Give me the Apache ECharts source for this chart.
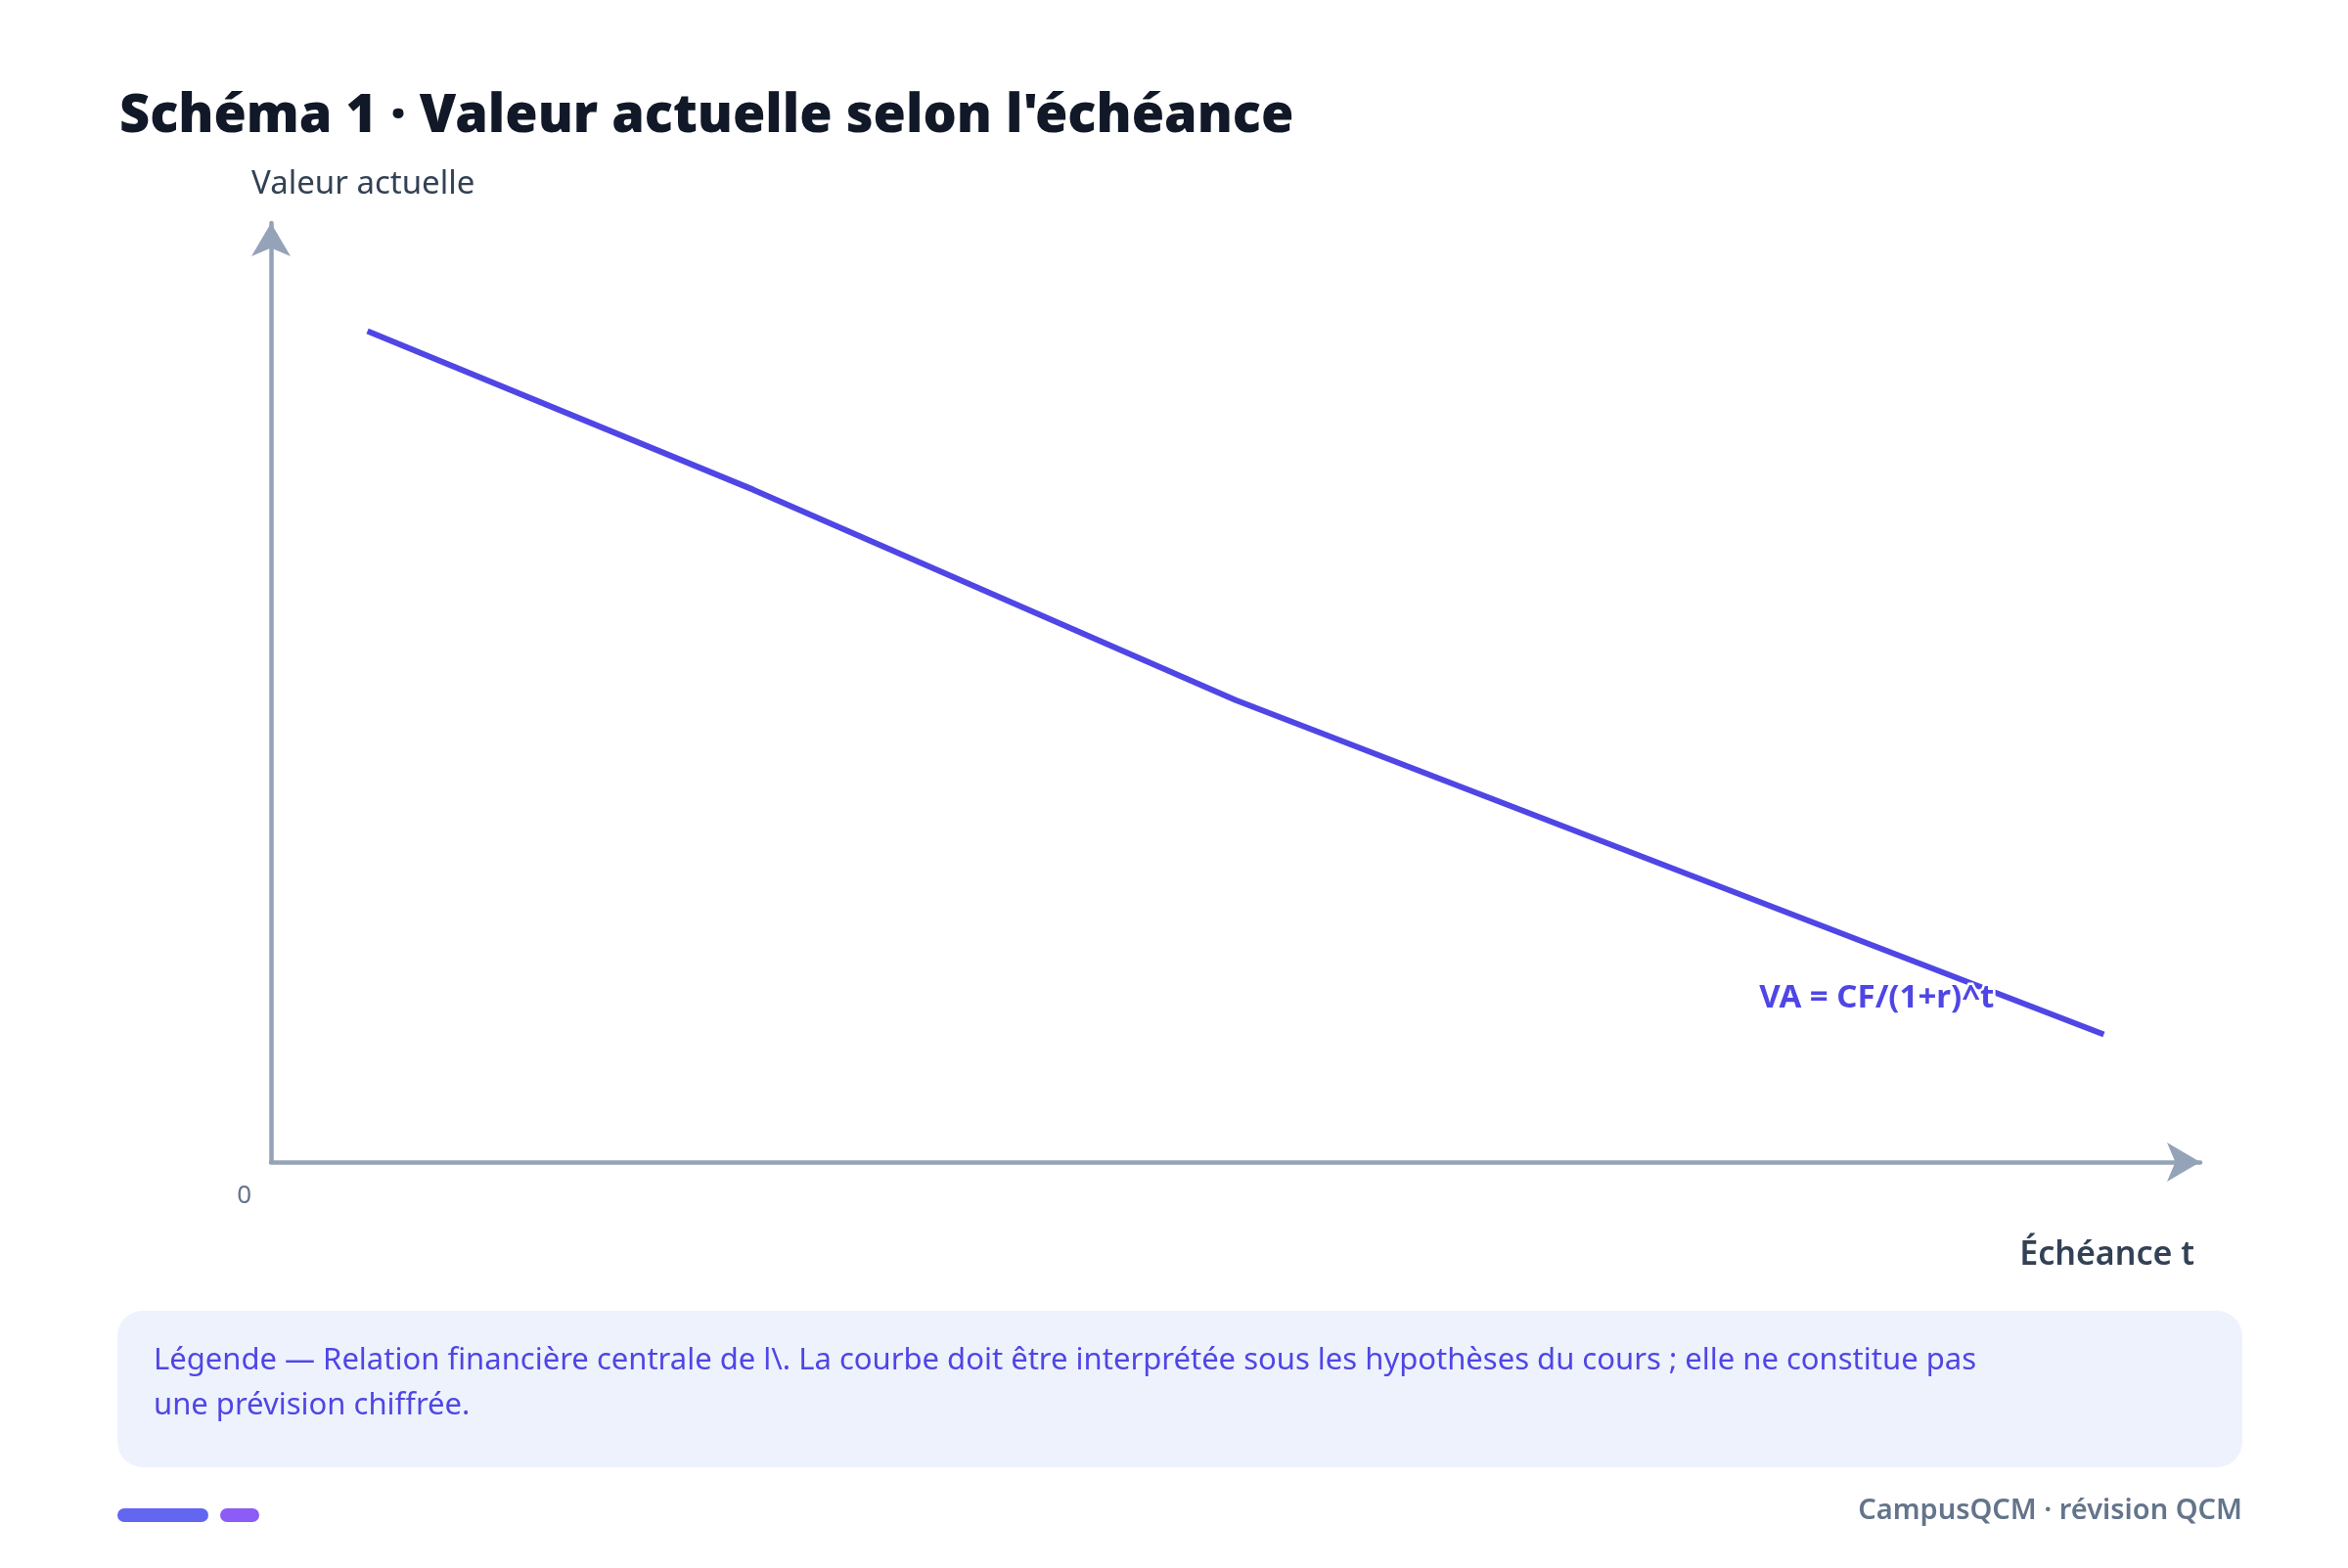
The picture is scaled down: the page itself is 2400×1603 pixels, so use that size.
<!DOCTYPE html>
<html><head><meta charset="utf-8">
<script src="https://cdn.jsdelivr.net/npm/echarts@6/dist/echarts.min.js"></script>
<style>html,body{margin:0;padding:0;background:#fff}#c{width:2400px;height:1603px}</style>
</head><body><div id="c"></div>
<script>
const maturities = [0.5, 2.5, 5, 9.5];
const presentValues = [8.85, 7.16, 4.92, 1.36];
const formulaLabel = 'VA = CF/(1+r)^t';
const titleText = "Schéma 1 · Valeur actuelle selon l'échéance";
const yName = 'Valeur actuelle';
const xName = 'Échéance t';
const legendLine1 = 'Légende — Relation financière centrale de l\\. La courbe doit être interprétée sous les hypothèses du cours ; elle ne constitue pas';
const legendLine2 = 'une prévision chiffrée.';
const footerText = 'CampusQCM · révision QCM';

const F = '"Noto Sans", sans-serif';
const chart = echarts.init(document.getElementById('c'));
chart.setOption({
  backgroundColor: '#fff',
  animation: false,
  title: {text: titleText, left: 117, top: 88, textStyle: {fontFamily: F, fontSize: 54, fontWeight: 900, color: '#111827'}},
  grid: {left: 277, right: 151, top: 228, bottom: 415},
  xAxis: {type: 'value', min: 0, max: 10, interval: 1,
    axisLine: {lineStyle: {color: '#94a3b8', width: 4.5}, symbol: ['none', 'arrow'], symbolSize: [30, 34]},
    axisTick: {show: false}, splitLine: {show: false},
    axisLabel: {formatter: v => v === 0 ? '0' : '', align: 'right', margin: 22, padding: [0, 20, 0, 0], color: '#64748b', fontSize: 26, fontFamily: F}},
  yAxis: {type: 'value', min: 0, max: 10,
    axisLine: {show: true, lineStyle: {color: '#94a3b8', width: 4.5}, symbol: ['none', 'arrow'], symbolSize: [30, 34]},
    axisTick: {show: false}, splitLine: {show: false}, axisLabel: {show: false}},
  series: [{type: 'line', data: maturities.map((t, i) => [t, presentValues[i]]),
    showSymbol: false, lineStyle: {color: '#4f46e5', width: 6},
    label: {show: false},
    markPoint: {symbol: 'circle', symbolSize: 0,
      data: [{coord: [maturities[3], presentValues[3]]}],
      label: {show: true, formatter: formulaLabel, position: 'left', distance: 0, offset: [-112, -37],
        color: '#4f46e5', fontSize: 33, fontWeight: 'bold', fontFamily: F, textBorderColor: '#fff', textBorderWidth: 5}}}],
  graphic: [
    {type: 'text', left: 257, top: 172, style: {text: yName, fontFamily: F, fontSize: 33, fill: '#334155'}},
    {type: 'text', right: 157, top: 1266, style: {text: xName, fontFamily: F, fontSize: 34, fontWeight: 600, fill: '#334155'}},
    {type: 'rect', shape: {x: 120, y: 1340, width: 2172, height: 160, r: 26}, style: {fill: '#eef2fd'}},
    {type: 'text', left: 157, top: 1368, style: {text: legendLine1 + '\n' + legendLine2, lineHeight: 46, fontFamily: F, fontSize: 31, fill: '#4f46e5'}},
    {type: 'rect', shape: {x: 120, y: 1542, width: 93, height: 14, r: 7}, style: {fill: '#6366f1'}},
    {type: 'rect', shape: {x: 225, y: 1542, width: 40, height: 14, r: 7}, style: {fill: '#8b5cf6'}},
    {type: 'text', right: 108, top: 1530, style: {text: footerText, fontFamily: F, fontSize: 29, fontWeight: 600, fill: '#64748b'}}
  ]
});
</script></body></html>
